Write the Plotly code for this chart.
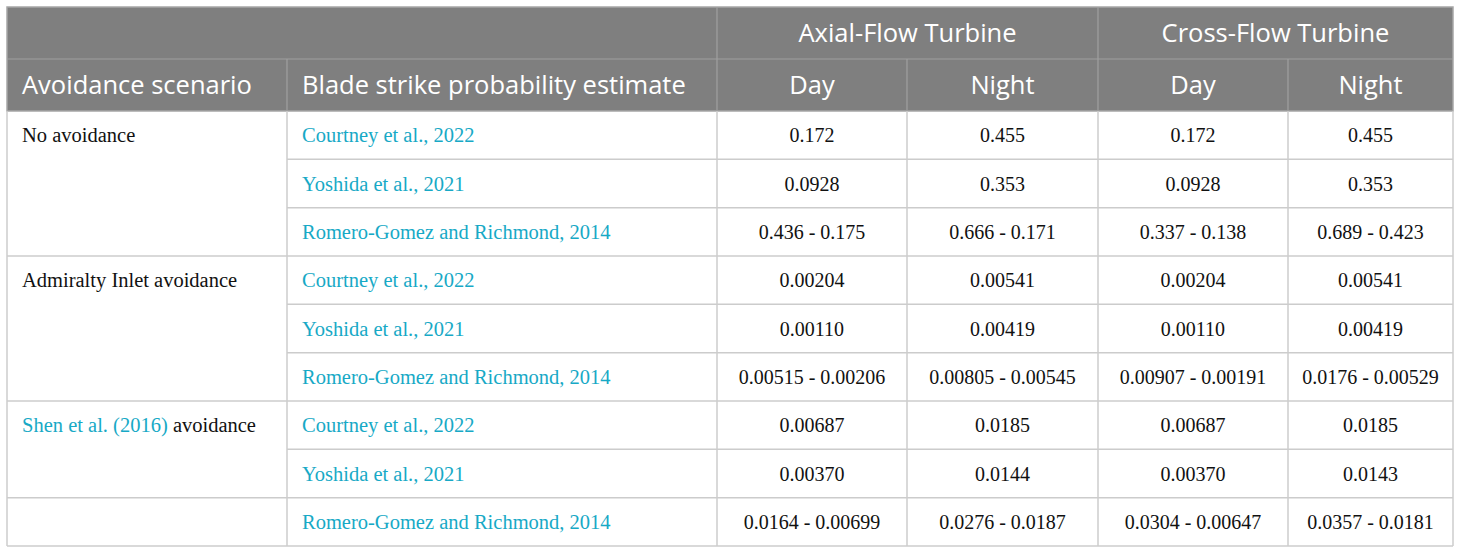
import plotly.graph_objects as go

# table content
scenarios = ["No avoidance", "Admiralty Inlet avoidance",
             "<span style='color:#17a9c6'>Shen et al. (2016)</span> avoidance", ""]
scenario_rows = [(0, 3), (3, 6), (6, 8), (8, 9)]  # rows covered by each scenario cell
estimates = ["Courtney et al., 2022", "Yoshida et al., 2021", "Romero-Gomez and Richmond, 2014"] * 3
turbines = ["Axial-Flow Turbine", "Cross-Flow Turbine"]
periods = ["Day", "Night", "Day", "Night"]
header_left = ["Avoidance scenario", "Blade strike probability estimate"]

axial_day = ["0.172", "0.0928", "0.436 - 0.175",
             "0.00204", "0.00110", "0.00515 - 0.00206",
             "0.00687", "0.00370", "0.0164 - 0.00699"]
axial_night = ["0.455", "0.353", "0.666 - 0.171",
               "0.00541", "0.00419", "0.00805 - 0.00545",
               "0.0185", "0.0144", "0.0276 - 0.0187"]
cross_day = ["0.172", "0.0928", "0.337 - 0.138",
             "0.00204", "0.00110", "0.00907 - 0.00191",
             "0.00687", "0.00370", "0.0304 - 0.00647"]
cross_night = ["0.455", "0.353", "0.689 - 0.423",
               "0.00541", "0.00419", "0.0176 - 0.00529",
               "0.0185", "0.0143", "0.0357 - 0.0181"]

# geometry (pixel units on the axes)
W, H = 1460, 554
col_edges = [7, 287, 717, 907, 1098, 1288, 1453]
top, head_mid, head_bot, bottom = 7, 59, 111, 546
n_rows = len(estimates)
row_h = (bottom - head_bot) / n_rows
row_y = [head_bot + row_h * (i + 0.5) + 2 for i in range(n_rows)]
head_y1 = (top + head_mid) / 2 + 3
head_y2 = (head_mid + head_bot) / 2 + 3
pad = 15

LINK = "#17a9c6"
GRID = "#cccccc"
HEAD = "#7f7f7f"
SANS = "Open Sans"
SERIF = "Liberation Serif"

fig = go.Figure()
shapes = []

# header background and separators
shapes.append(dict(type="rect", x0=col_edges[0], x1=col_edges[-1], y0=top, y1=head_bot,
                   fillcolor=HEAD, line=dict(color="#a6a6a6", width=1.5), layer="below"))
shapes.append(dict(type="line", x0=col_edges[0], x1=col_edges[-1], y0=head_mid, y1=head_mid,
                   line=dict(color="#a0a0a0", width=1.2), layer="below"))
for i, x in enumerate(col_edges[1:-1], start=1):
    y0 = top if i in (2, 4) else head_mid
    shapes.append(dict(type="line", x0=x, x1=x, y0=y0, y1=head_bot,
                       line=dict(color="#a0a0a0", width=1.2), layer="below"))

# body grid
group_edges = {r1 for _, r1 in scenario_rows}
for r in range(1, n_rows + 1):
    y = head_bot + row_h * r
    x0 = col_edges[0] if (r in group_edges) else col_edges[1]
    shapes.append(dict(type="line", x0=x0, x1=col_edges[-1], y0=y, y1=y,
                       line=dict(color=GRID, width=1.5), layer="below"))
for x in col_edges:
    shapes.append(dict(type="line", x0=x, x1=x, y0=head_bot, y1=bottom,
                       line=dict(color=GRID, width=1.5), layer="below"))

# header text
fig.add_trace(go.Scatter(
    x=[(col_edges[2] + col_edges[4]) / 2, (col_edges[4] + col_edges[6]) / 2],
    y=[head_y1] * 2, text=turbines, mode="text",
    textposition="middle center", textfont=dict(family=SANS, size=25.5, color="white"),
    hoverinfo="skip", showlegend=False))
fig.add_trace(go.Scatter(
    x=[col_edges[0] + pad, col_edges[1] + pad], y=[head_y2] * 2,
    text=header_left, mode="text", textposition="middle right",
    textfont=dict(family=SANS, size=25.5, color="white"),
    hoverinfo="skip", showlegend=False))
fig.add_trace(go.Scatter(
    x=[(col_edges[i] + col_edges[i + 1]) / 2 for i in range(2, 6)],
    y=[head_y2] * 4, text=periods, mode="text",
    textposition="middle center", textfont=dict(family=SANS, size=25.5, color="white"),
    hoverinfo="skip", showlegend=False))

# scenario column (label sits in first row of its group)
fig.add_trace(go.Scatter(
    x=[col_edges[0] + pad] * len(scenarios), y=[row_y[r0] for r0, _ in scenario_rows],
    text=scenarios, mode="text", textposition="middle right",
    textfont=dict(family=SERIF, size=20.5, color="#111111"),
    hoverinfo="skip", showlegend=False))

# estimate column
fig.add_trace(go.Scatter(
    x=[col_edges[1] + pad] * n_rows, y=row_y, text=estimates, mode="text",
    textposition="middle right", textfont=dict(family=SERIF, size=20.5, color=LINK),
    hoverinfo="skip", showlegend=False))

# value columns
for i, vals in enumerate([axial_day, axial_night, cross_day, cross_night]):
    cx = (col_edges[i + 2] + col_edges[i + 3]) / 2
    fig.add_trace(go.Scatter(
        x=[cx] * n_rows, y=row_y, text=vals, mode="text",
        textposition="middle center", textfont=dict(family=SERIF, size=20, color="#111111"),
        hoverinfo="skip", showlegend=False))

fig.update_layout(
    width=W, height=H, margin=dict(l=0, r=0, t=0, b=0),
    paper_bgcolor="white", plot_bgcolor="white", shapes=shapes,
    xaxis=dict(range=[0, W], visible=False, fixedrange=True),
    yaxis=dict(range=[H, 0], visible=False, fixedrange=True),
)

fig.write_html("out.html", config={"displayModeBar": False},
               post_script="document.body.style.margin='0';")
